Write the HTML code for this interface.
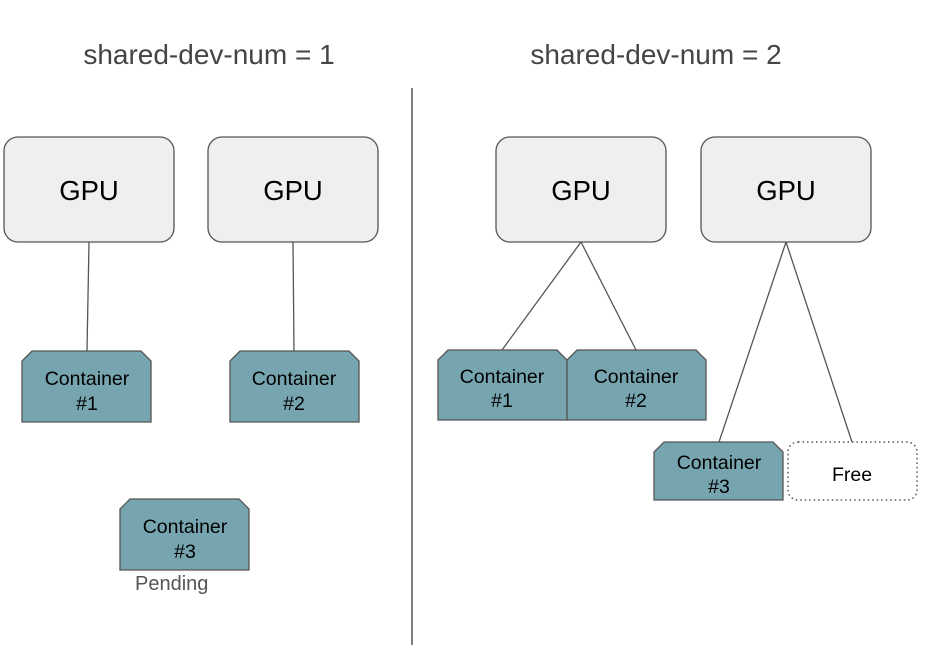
<!DOCTYPE html>
<html><head><meta charset="utf-8"><style>
html,body{margin:0;padding:0;background:#fff;}
svg{display:block;font-family:"Liberation Sans",sans-serif;}
.gpu{fill:#efefef;stroke:#555;stroke-width:1.3;}
.c{fill:#76a5af;stroke:#555;stroke-width:1.3;}
.ln{stroke:#555;stroke-width:1.3;fill:none;}
.gt{font-size:27.5px;fill:#000;text-anchor:middle;}
.ct{font-size:19.5px;fill:#000;text-anchor:middle;}
</style></head><body>
<svg width="925" height="665" viewBox="0 0 925 665" xmlns="http://www.w3.org/2000/svg">
<text x="209" y="64" font-size="28" fill="#444" text-anchor="middle">shared-dev-num = 1</text>
<text x="656" y="64" font-size="28" fill="#444" text-anchor="middle">shared-dev-num = 2</text>
<line x1="412" y1="88" x2="412" y2="645" stroke="#555" stroke-width="1.5"/>

<line class="ln" x1="89" y1="242" x2="87" y2="351"/>
<line class="ln" x1="293" y1="242" x2="294" y2="351"/>
<line class="ln" x1="581" y1="242" x2="502" y2="350"/>
<line class="ln" x1="581" y1="242" x2="636" y2="350"/>
<line class="ln" x1="786" y1="242" x2="719" y2="442"/>
<line class="ln" x1="786" y1="242" x2="852" y2="442"/>

<rect class="gpu" x="4" y="137" width="170" height="105" rx="14"/>
<text class="gt" x="89" y="200">GPU</text>
<rect class="gpu" x="208" y="137" width="170" height="105" rx="14"/>
<text class="gt" x="293" y="200">GPU</text>
<rect class="gpu" x="496" y="137" width="170" height="105" rx="14"/>
<text class="gt" x="581" y="200">GPU</text>
<rect class="gpu" x="701" y="137" width="170" height="105" rx="14"/>
<text class="gt" x="786" y="200">GPU</text>

<polygon class="c" points="32,351 141,351 151,361 151,422 22,422 22,361"/>
<text class="ct" x="87" y="385">Container</text><text class="ct" x="87" y="410">#1</text>
<polygon class="c" points="240,351 349,351 359,361 359,422 230,422 230,361"/>
<text class="ct" x="294" y="385">Container</text><text class="ct" x="294" y="410">#2</text>
<polygon class="c" points="130,499 239,499 249,509 249,570 120,570 120,509"/>
<text class="ct" x="185" y="533">Container</text><text class="ct" x="185" y="558">#3</text>
<text x="135" y="590" font-size="20" fill="#555">Pending</text>

<polygon class="c" points="448,350 557,350 567,360 567,420 438,420 438,360"/>
<text class="ct" x="502" y="383">Container</text><text class="ct" x="502" y="407">#1</text>
<polygon class="c" points="577,350 696,350 706,360 706,420 567,420 567,360"/>
<text class="ct" x="636" y="383">Container</text><text class="ct" x="636" y="407">#2</text>
<polygon class="c" points="664,442 773,442 783,452 783,500 654,500 654,452"/>
<text class="ct" x="719" y="469">Container</text><text class="ct" x="719" y="493">#3</text>
<rect x="788" y="442" width="129" height="58" rx="10" fill="#fff" stroke="#555" stroke-width="1.5" stroke-dasharray="1.5,3"/>
<text class="ct" x="852" y="481">Free</text>
</svg>
</body></html>
